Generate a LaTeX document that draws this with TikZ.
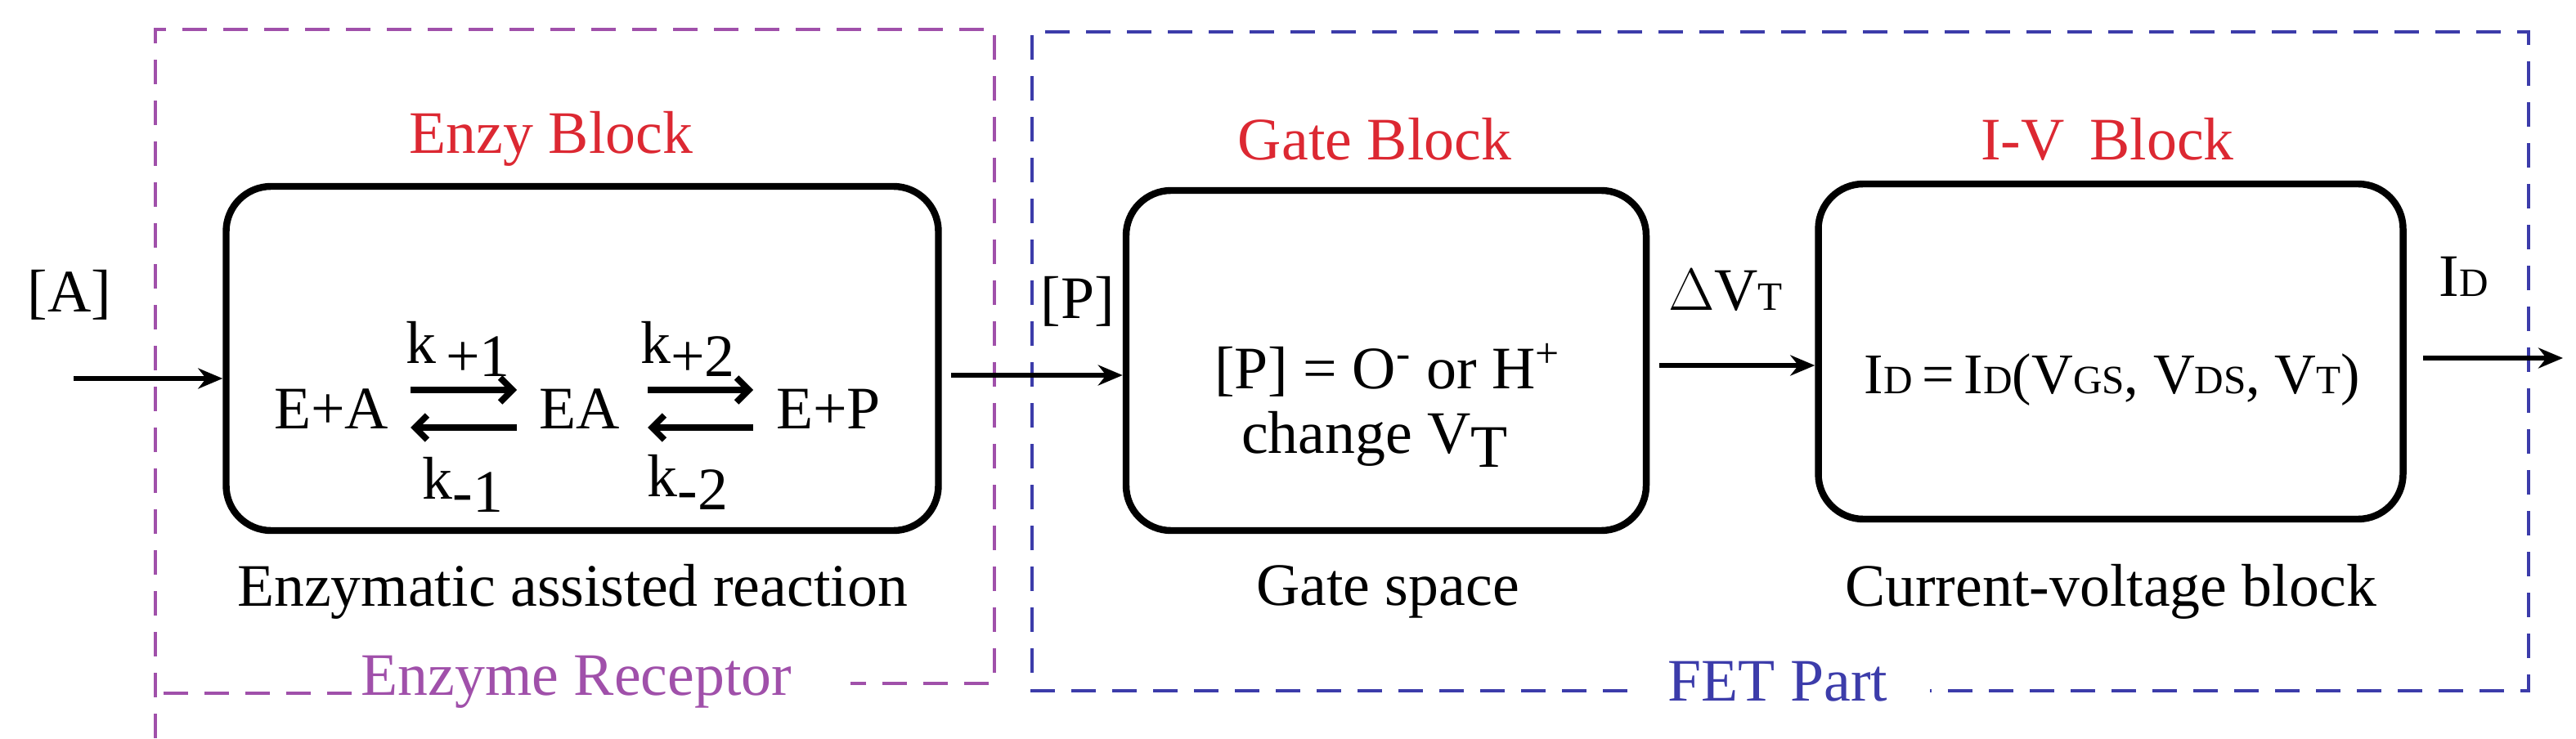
\documentclass[tikz,border=0pt]{standalone}
\usepackage{fontspec}
\setmainfont{Liberation Serif}[Ligatures=TeX]
\newfontfamily\timesfont{Liberation Serif}
\usepackage{tikz}
\usetikzlibrary{arrows.meta}
\usetikzlibrary{positioning}
\usetikzlibrary{calc}
\definecolor{enzred}{RGB}{220,40,50}
\definecolor{recpurple}{RGB}{160,80,170}
\definecolor{fetblue}{RGB}{60,60,170}

\tikzset{
	block/.style={draw, line width=2.4pt, rounded corners=0.55cm},
	title/.style={text=enzred, font=\timesfont\fontsize{21}{25}\selectfont},
	caption/.style={font=\timesfont\fontsize{21}{25}\selectfont},
	txt/.style={font=\timesfont\fontsize{21}{25}\selectfont, inner sep=1pt},
	part/.style={dash pattern=on 0.3cm off 0.2cm, line width=0.9pt},
	flow/.style={line width=1.6pt, -{Stealth[length=0.3cm, width=0.25cm]}},
	rate/.style={line width=2.2pt, -{Straight Barb[length=0.15cm, width=0.3cm]}},
}

\begin{document}
\begin{tikzpicture}
	\useasboundingbox (0,0) rectangle (31.5,9.03);

	%Parts

	\draw [part, recpurple] (1.9,0) -- (1.9,8.67) -- (12.16,8.67) -- (12.16,0.67) -- (10.4,0.67);
	\draw [part, recpurple] (4.3,0.55) -- (1.9,0.55);
	\node (Receptor) [title, text=recpurple] at (7.05,0.69) {Enzyme Receptor};

	\draw [part, fetblue] (19.9,0.58) -- (12.62,0.58) -- (12.62,8.64) -- (30.92,8.64) -- (30.92,0.58) -- (23.6,0.58);
	\node (FET) [title, text=fetblue] at (21.74,0.69) {FET Part};

	%Blocks

	\node (Enzy) [block, minimum width=8.71cm, minimum height=4.21cm] at (7.12,4.645) {};
	\node (Gate) [block, minimum width=6.36cm, minimum height=4.16cm] at (16.95,4.62) {};
	\node (IV) [block, minimum width=7.15cm, minimum height=4.10cm] at (25.81,4.73) {};

	\node (EnzyName) [title] at (6.74,7.33) {Enzy Block};
	\node (GateName) [title] at (16.81,7.33) {Gate Block};
	\node (IVName) [title] at (25.77,7.33) {I-V\, Block};

	\node (EnzyCap) [caption] at (7.0,1.79) {Enzymatic assisted reaction};
	\node (GateCap) [caption] at (16.97,1.79) {Gate space};
	\node (IVCap) [caption] at (25.81,1.79) {Current-voltage block};

	%Reaction

	\node (EA1) [txt] at (4.05,4.03) {E+A};
	\node (EA) [txt] at (7.09,4.03) {EA};
	\node (EP) [txt] at (10.13,4.03) {E+P};

	\draw [rate] (5.02,4.26) -- (6.32,4.26);
	\draw [rate] (6.32,3.80) -- (5.02,3.80);
	\draw [rate] (7.92,4.26) -- (9.21,4.26);
	\draw [rate] (9.21,3.80) -- (7.92,3.80);

	\node (kp1) [txt] at (5.60,4.76) {k\,\raisebox{-0.45ex}{+1}};
	\node (km1) [txt] at (5.66,3.10) {k\raisebox{-0.45ex}{-1}};
	\node (kp2) [txt] at (8.41,4.76) {k\raisebox{-0.45ex}{+2}};
	\node (km2) [txt] at (8.41,3.13) {k\raisebox{-0.45ex}{-2}};

	%Gate and I-V

	\node (GateEq) [txt] at (16.97,4.50) {[P] = O\textsuperscript{-} or H\textsuperscript{+}};
	\node (GateVT) [txt] at (16.81,3.66) {change V\raisebox{-0.5ex}{T}};
	\node (IVEq) [txt, font=\timesfont\fontsize{20}{24}\selectfont] at (25.83,4.38)
		{I{\fontsize{14}{16}\selectfont D}\,=\,I{\fontsize{14}{16}\selectfont D}(V{\fontsize{14}{16}\selectfont GS}, V{\fontsize{14}{16}\selectfont DS}, V{\fontsize{14}{16}\selectfont T})};

	%Signals

	\coordinate (In) at (0.9,4.40);
	\coordinate (Pout) at (11.63,4.44);
	\coordinate (VTout) at (20.29,4.56);
	\coordinate (Out) at (31.34,4.65);

	\draw [flow] (In) -- (In -| Enzy.west);
	\draw [flow] (Pout) -- (Pout -| Gate.west);
	\draw [flow] (VTout) -- (VTout -| IV.west);
	\draw [flow] ([xshift=0.2cm]Out -| IV.east) -- (Out);

	\node (A) [txt] at (0.85,5.42) {[A]};
	\node (P) [txt] at (13.18,5.34) {[P]};
	\node (dVT) [txt] at (21.10,5.48) {$\Delta$V{\fontsize{14}{16}\selectfont T}};
	\node (ID) [txt] at (30.13,5.65) {I{\fontsize{14}{16}\selectfont D}};

\end{tikzpicture}
\end{document}
